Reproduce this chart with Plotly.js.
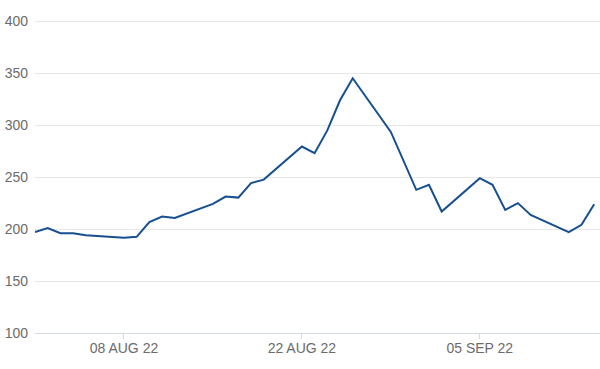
<!DOCTYPE html>
<html>
<head>
<meta charset="utf-8">
<script src="https://cdn.plot.ly/plotly-3.0.1.min.js"></script>
<style>html,body{margin:0;padding:0;background:#fff;}#chart{width:600px;height:369px;}</style>
</head>
<body>
<div id="chart"></div>
<script>
const dates = ['2022-08-01','2022-08-02','2022-08-03','2022-08-04','2022-08-05',
  '2022-08-08','2022-08-09','2022-08-10','2022-08-11','2022-08-12',
  '2022-08-15','2022-08-16','2022-08-17','2022-08-18','2022-08-19',
  '2022-08-22','2022-08-23','2022-08-24','2022-08-25','2022-08-26',
  '2022-08-29','2022-08-30','2022-08-31','2022-09-01','2022-09-02',
  '2022-09-05','2022-09-06','2022-09-07','2022-09-08','2022-09-09',
  '2022-09-12','2022-09-13','2022-09-14'];
const values = [197,201,196,196,194,
  191.5,192.5,206.7,212,210.6,
  224.2,231.2,230.2,244.2,247.5,
  279.3,272.9,294.8,323.8,345,
  293.4,265.5,237.7,242.5,216.8,
  248.9,242.5,218.4,224.9,213.6,
  197,204,223.9];
const tickVals = ['2022-08-08','2022-08-22','2022-09-05'];
const tickText = ['08 AUG 22','22 AUG 22','05 SEP 22'];
const yTicks = [100,150,200,250,300,350,400];

Plotly.newPlot('chart', [{
  x: dates, y: values, type: 'scatter', mode: 'lines',
  line: {color: '#174f8f', width: 2}, hoverinfo: 'skip'
}], {
  width: 600, height: 369,
  margin: {l: 35, r: 0, t: 20, b: 36},
  paper_bgcolor: '#fff', plot_bgcolor: '#fff',
  showlegend: false,
  font: {family: 'Liberation Sans, Arial, sans-serif', size: 14, color: '#6b6b6b'},
  xaxis: {
    type: 'date', range: ['2022-08-01', '2022-09-14 11:00'],
    tickmode: 'array', tickvals: tickVals, ticktext: tickText,
    showgrid: false, showline: true, linecolor: '#d3dae4', linewidth: 1,
    ticks: 'outside', ticklen: 5, tickcolor: '#d3dae4', ticklabelstandoff: -3,
    tickfont: {size: 14, color: '#6b6b6b'}, zeroline: false
  },
  yaxis: {
    range: [100, 401], tickmode: 'array', tickvals: yTicks,
    showgrid: true, gridcolor: '#e8e8e8', gridwidth: 1,
    zeroline: false, showline: false, ticks: '', ticklabelstandoff: 6,
    tickfont: {size: 14, color: '#6b6b6b'}
  }
}, {staticPlot: true});
</script>
</body>
</html>
